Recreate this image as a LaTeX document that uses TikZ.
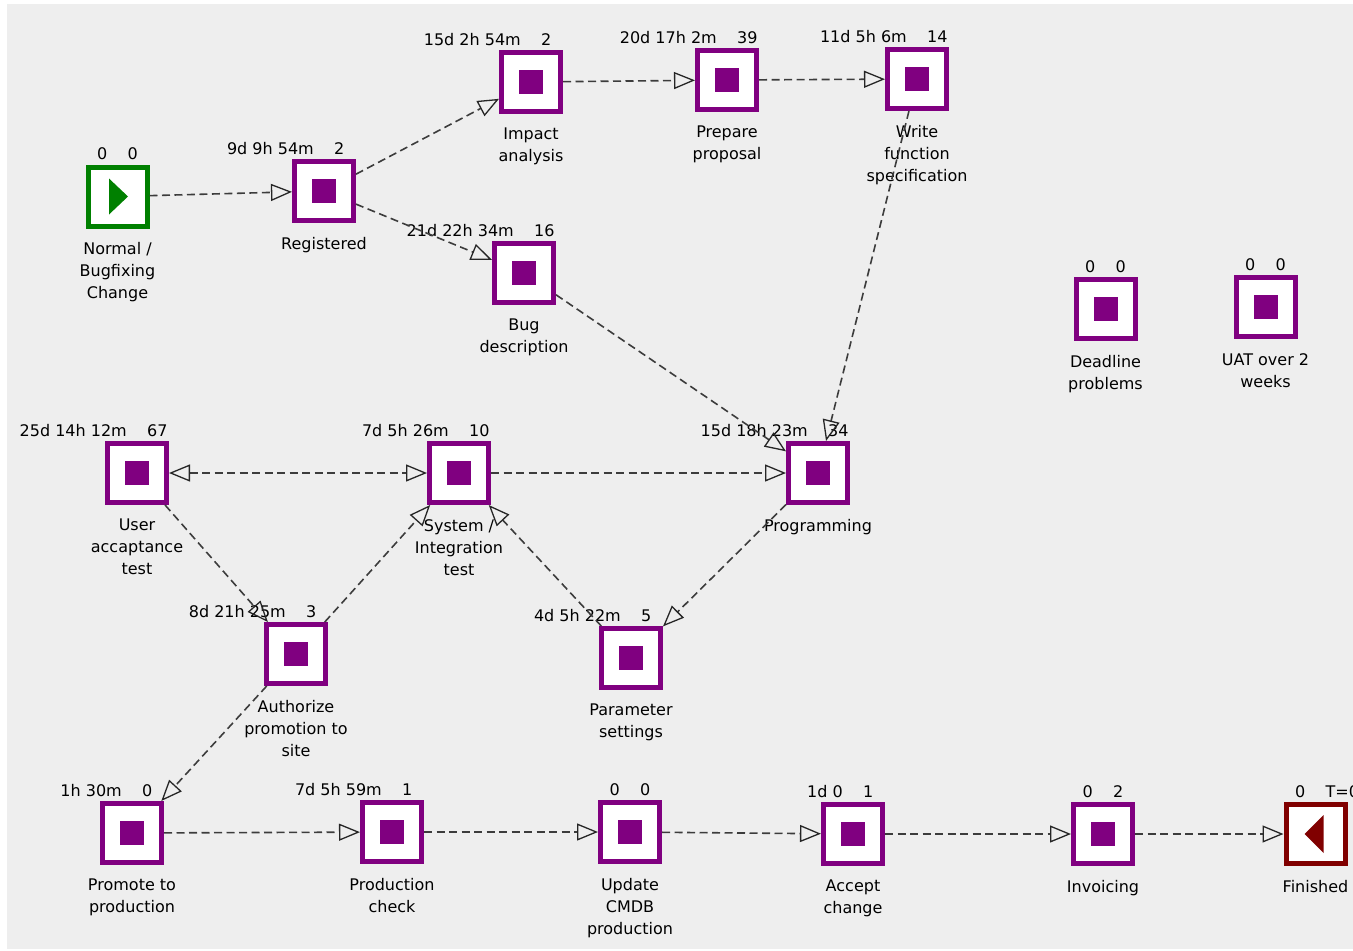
\documentclass[tikz,border=0pt]{standalone}
\usepackage{fontspec}
\setmainfont{DejaVu Sans}
\usetikzlibrary{arrows.meta}
\definecolor{purp}{RGB}{128,0,128}
\definecolor{startgreen}{RGB}{0,128,0}
\definecolor{endred}{RGB}{128,0,0}
\definecolor{bg}{RGB}{238,238,238}
\definecolor{edgegray}{RGB}{60,60,60}
\tikzset{
  basebox/.style={rectangle, fill=white, line width=5pt, minimum size=59pt, inner sep=0pt},
  taskbox/.style={basebox, draw=purp,
    path picture={\fill[purp] ([shift={(-12,-12)}]path picture bounding box.center) rectangle ([shift={(12,12)}]path picture bounding box.center);}},
  startbox/.style={basebox, draw=startgreen,
    path picture={\fill[startgreen] ([shift={(-8.5,-18)}]path picture bounding box.center) -- ([shift={(10.5,0)}]path picture bounding box.center) -- ([shift={(-8.5,18)}]path picture bounding box.center) -- cycle;}},
  endbox/.style={basebox, draw=endred,
    path picture={\fill[endred] ([shift={(8,-19)}]path picture bounding box.center) -- ([shift={(-11,0)}]path picture bounding box.center) -- ([shift={(8,19)}]path picture bounding box.center) -- cycle;}},
  numlbl/.style={inner sep=0pt, font=\fontsize{16}{22}\selectfont},
  namelbl/.style={inner sep=0pt, align=center, anchor=north, font=\fontsize{16}{22}\selectfont},
  opentip/.tip={Triangle[open, length=21pt, width=17pt, line width=1.3pt, color=black!85]},
  flow/.style={draw=edgegray, line width=1.6pt, dash pattern=on 8pt off 4.5pt, -opentip},
  flowboth/.style={draw=edgegray, line width=1.6pt, dash pattern=on 8pt off 4.5pt, opentip-opentip},
}
\newcommand\tsk[7]{%
  \node[#1] (#2) at (#3,#4) {};
  \node[numlbl, anchor=base east] (#2-l) at ([shift={(-10,-5)}]#2.north) {#5};
  \node[numlbl, anchor=base west] (#2-r) at ([shift={(10,-5)}]#2.north) {#6};
  \node[namelbl] (#2-t) at ([shift={(0,14)}]#2.south) {#7};
}
\begin{document}
\begin{tikzpicture}[x=1pt, y=-1pt]
\useasboundingbox (0,0) rectangle (1353,951);
\fill[white] (0,0) rectangle (1353,951);
\fill[bg] (7,4) rectangle (1353,949);

\tsk{startbox}{start}{117.5}{196.5}{0}{0}{Normal /\\Bugfixing\\Change}
\tsk{taskbox}{reg}{324}{191}{9d 9h 54m}{2}{Registered}
\tsk{taskbox}{imp}{531}{82}{15d 2h 54m}{2}{Impact\\analysis}
\tsk{taskbox}{prep}{727}{80}{20d 17h 2m}{39}{Prepare\\proposal}
\tsk{taskbox}{wfs}{917}{79}{11d 5h 6m}{14}{Write\\function\\specification}
\tsk{taskbox}{bug}{524}{273}{21d 22h 34m}{16}{Bug\\description}
\tsk{taskbox}{dead}{1105.5}{309}{0}{0}{Deadline\\problems}
\tsk{taskbox}{uatw}{1265.5}{307}{0}{0}{UAT over 2\\weeks}
\tsk{taskbox}{uat}{137}{473}{25d 14h 12m}{67}{User\\accaptance\\test}
\tsk{taskbox}{sit}{459}{473}{7d 5h 26m}{10}{System /\\Integration\\test}
\tsk{taskbox}{prog}{818}{473}{15d 18h 23m}{34}{Programming}
\tsk{taskbox}{auth}{296}{654}{8d 21h 25m}{3}{Authorize\\promotion to\\site}
\tsk{taskbox}{par}{631}{658}{4d 5h 22m}{5}{Parameter\\settings}
\tsk{taskbox}{promo}{132}{833}{1h 30m}{0}{Promote to\\production}
\tsk{taskbox}{pcheck}{392}{832}{7d 5h 59m}{1}{Production\\check}
\tsk{taskbox}{cmdb}{630}{832}{0}{0}{Update\\CMDB\\production}
\tsk{taskbox}{acc}{853}{834}{1d 0}{1}{Accept\\change}
\tsk{taskbox}{inv}{1103}{834}{0}{2}{Invoicing}
\tsk{endbox}{fin}{1315.5}{834}{0}{T=0}{Finished}

\draw[flow] (start) -- (reg);
\draw[flow] (reg) -- (imp);
\draw[flow] (reg) -- (bug);
\draw[flow] (imp) -- (prep);
\draw[flow] (prep) -- (wfs);
\draw[flow] (wfs) -- (prog);
\draw[flow] (bug) -- (prog);
\draw[flowboth] (uat) -- (sit);
\draw[flow] (sit) -- (prog);
\draw[flow] (prog) -- (par);
\draw[flow] (par) -- (sit);
\draw[flow] (uat) -- (auth);
\draw[flow] (auth) -- (sit);
\draw[flow] (auth) -- (promo);
\draw[flow] (promo) -- (pcheck);
\draw[flow] (pcheck) -- (cmdb);
\draw[flow] (cmdb) -- (acc);
\draw[flow] (acc) -- (inv);
\draw[flow] (inv) -- (fin);
\end{tikzpicture}
\end{document}
